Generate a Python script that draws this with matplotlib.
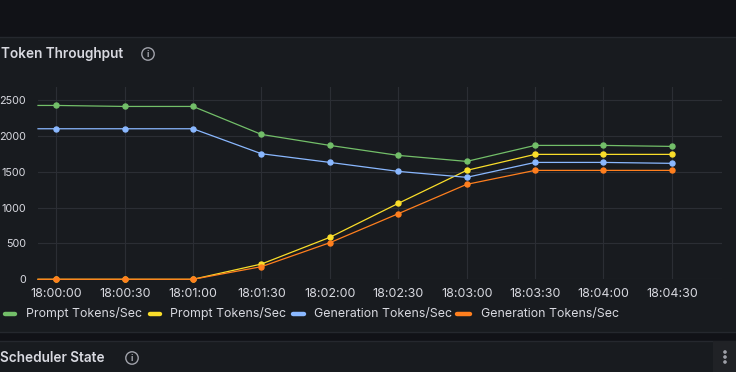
import matplotlib
matplotlib.use("Agg")
import matplotlib.pyplot as plt
import matplotlib.dates as mdates
from matplotlib.patches import Rectangle, Circle
from matplotlib.lines import Line2D
import pandas as pd

plt.rcParams['font.family'] = ['Inter', 'DejaVu Sans']

# ---- data ----
times = ["17:59:52", "18:00:00", "18:00:30", "18:01:00", "18:01:30", "18:02:00",
         "18:02:30", "18:03:00", "18:03:30", "18:04:00", "18:04:30"]
prompt_green = [2423, 2423, 2409, 2409, 2019, 1866, 1727, 1643, 1866, 1866, 1852]
prompt_yellow = [0, 0, 0, 0, 213, 585, 1058, 1518, 1741, 1741, 1741]
gen_blue = [2098, 2098, 2098, 2098, 1750, 1629, 1504, 1421, 1629, 1629, 1616]
gen_orange = [0, 0, 0, 0, 176, 510, 914, 1323, 1518, 1518, 1518]
series_labels = ["Prompt Tokens/Sec", "Prompt Tokens/Sec",
                 "Generation Tokens/Sec", "Generation Tokens/Sec"]
series_colors = ["#73bf69", "#fade2a", "#8ab8ff", "#ff7f1e"]
y_ticks = [0, 500, 1000, 1500, 2000, 2500]
x_start, x_end = "17:59:52", "18:04:52"

t = pd.to_datetime(["2024-01-01 " + s for s in times])
xs0 = pd.Timestamp("2024-01-01 " + x_start)
xs1 = pd.Timestamp("2024-01-01 " + x_end)

W, H = 736, 372
fig = plt.figure(figsize=(W / 100, H / 100), dpi=100)
fig.patch.set_facecolor("#111217")

# background / decoration axes in pixel coordinates
bg = fig.add_axes([0, 0, 1, 1], zorder=0)
bg.set_xlim(0, W)
bg.set_ylim(H, 0)
bg.axis("off")
bg.add_patch(Rectangle((-2, 37), W + 4, 295, facecolor="#181b1f", edgecolor="#25282e", lw=1))
bg.add_patch(Rectangle((-2, 341), W + 4, 40, facecolor="#181b1f", edgecolor="#25282e", lw=1))
bg.add_patch(Rectangle((713, 341), 30, 40, facecolor="#202226", edgecolor="none"))

txt = "#d8d9e0"
bg.text(1, 54, "Token Throughput", color=txt, fontsize=9.8, fontweight="semibold",
        va="center", ha="left")
bg.add_patch(Circle((148, 54), 6.2, fill=False, edgecolor="#a0a2aa", lw=1.0))
bg.text(148, 54.5, "i", color="#a0a2aa", fontsize=6.5, ha="center", va="center", fontweight="bold")
bg.text(0, 358, "Scheduler State", color=txt, fontsize=9.8, fontweight="semibold",
        va="center", ha="left")
bg.add_patch(Circle((132, 358), 6.2, fill=False, edgecolor="#a0a2aa", lw=1.0))
bg.text(132, 358.5, "i", color="#a0a2aa", fontsize=6.5, ha="center", va="center", fontweight="bold")
for yy in (352, 357, 362):
    bg.add_patch(Circle((725, yy), 1.1, color="#a0a2aa"))

# legend (manual, pixel coords)
leg_sw = [(5, 15), (150, 160), (293, 304), (457, 470)]
leg_tx = [26, 170, 314, 481]
for (a, b), tx, lab, col in zip(leg_sw, leg_tx, series_labels, series_colors):
    bg.add_line(Line2D([a, b], [313.5, 313.5], color=col, lw=3.2, solid_capstyle="round"))
    bg.text(tx, 313.5, lab, color=txt, fontsize=8.9, va="center", ha="left")

# plot axes
left, right = 38 / W, 722 / W
bottom, top = 1 - 279.3 / H, 1 - 87 / H
ax = fig.add_axes([left, bottom, right - left, top - bottom], zorder=1)
ax.set_facecolor("none")
for sp in ax.spines.values():
    sp.set_visible(False)

for vals, col in zip([prompt_green, prompt_yellow, gen_blue, gen_orange], series_colors):
    ax.plot(t, vals, color=col, lw=0.9, marker="o", markersize=3.6,
            markevery=list(range(1, len(t))), clip_on=False, zorder=3)

ax.set_xlim(xs0, xs1)
ax.set_ylim(0, 2680)
ax.set_yticks(y_ticks)
ax.xaxis.set_major_locator(mdates.SecondLocator(bysecond=[0, 30]))
ax.xaxis.set_major_formatter(mdates.DateFormatter("%H:%M:%S"))
ax.grid(True, color="#2b2e34", lw=0.8)
ax.set_axisbelow(True)
ax.tick_params(axis="both", length=0, colors=txt)
ax.tick_params(axis="x", labelsize=9, pad=6)
ax.tick_params(axis="y", labelsize=7.8, pad=8.5)

fig.savefig("out.png", dpi=100, facecolor=fig.get_facecolor())
